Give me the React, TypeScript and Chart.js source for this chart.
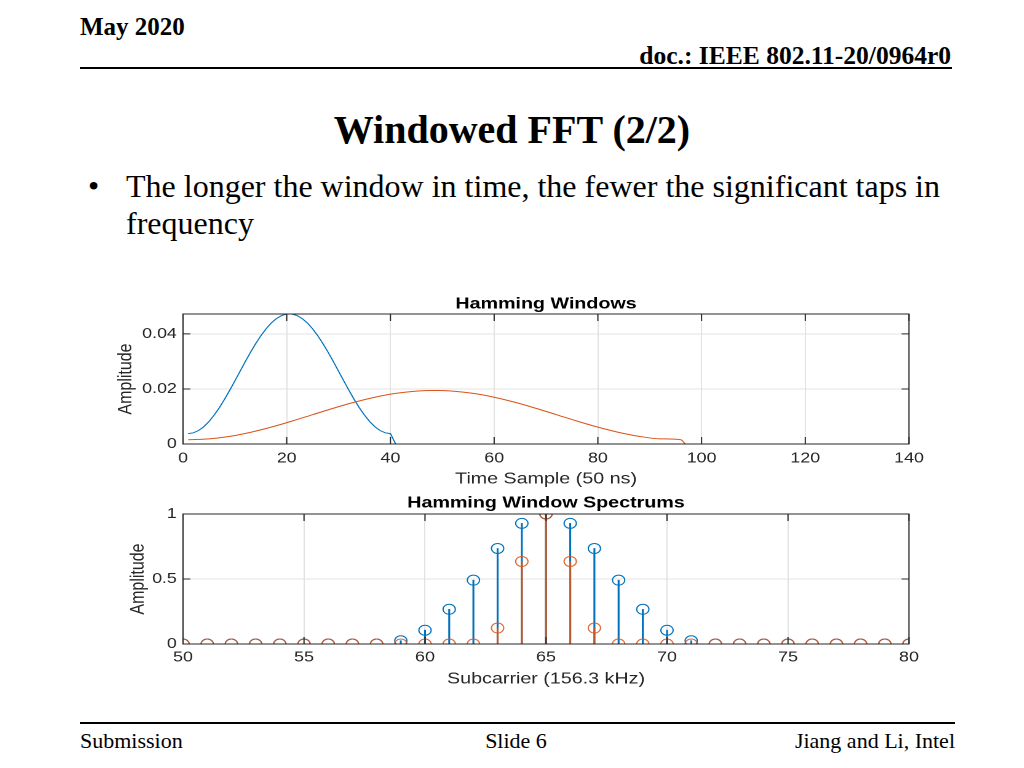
import React, { useEffect, useRef } from "react";
import { Chart, registerables } from "chart.js";

Chart.register(...registerables);

// ---------------- data ----------------
// Top plot: Hamming windows in time (x = time sample, 50 ns)
const shortWindowSamples = [
  1, 2, 3, 4, 5, 6, 7, 8, 9, 10, 11, 12, 13, 14, 15, 16, 17, 18, 19, 20,
  21, 22, 23, 24, 25, 26, 27, 28, 29, 30, 31, 32, 33, 34, 35, 36, 37, 38, 39, 40,
  41, 128,
];
const shortWindowAmplitude = [
  0.003784, 0.004066, 0.004904, 0.006276, 0.008148, 0.010472, 0.013182, 0.016214,
  0.01949, 0.022919, 0.026418, 0.029895, 0.033258, 0.036421, 0.039303, 0.041828,
  0.043936, 0.045558, 0.046668, 0.04723, 0.04723, 0.046668, 0.045558, 0.043936,
  0.041828, 0.039303, 0.036421, 0.033258, 0.029895, 0.026418, 0.022919, 0.01949,
  0.016214, 0.013182, 0.010472, 0.008148, 0.006276, 0.004904, 0.004066, 0.003784,
  0, 0,
];
const longWindowSamples = [
  1, 5, 9, 13, 17, 21, 25, 29, 33, 37, 41, 45, 48, 49, 52, 56, 60, 64, 68, 72,
  76, 80, 84, 88, 92, 96, 97, 128,
];
const longWindowAmplitude = [
  0.001557, 0.001869, 0.002781, 0.004232, 0.006119, 0.008312, 0.010658, 0.012994,
  0.015157, 0.016995, 0.018384, 0.019224, 0.019458, 0.019458, 0.019224, 0.018384,
  0.016995, 0.015157, 0.012994, 0.010658, 0.008312, 0.006119, 0.004232, 0.002781,
  0.001869, 0.001557, 0, 0,
];
const timeTicks = [0, 20, 40, 60, 80, 100, 120, 140];
const timeTickLabels = ["0", "20", "40", "60", "80", "100", "120", "140"];
const windowAmpTicks = [0, 0.02, 0.04];
const windowAmpTickLabels = ["0", "0.02", "0.04"];
const windowAmpMax = 0.04723;

// Bottom plot: spectra per subcarrier
const subcarriers = [
  50, 51, 52, 53, 54, 55, 56, 57, 58, 59, 60, 61, 62, 63, 64, 65, 66, 67, 68, 69,
  70, 71, 72, 73, 74, 75, 76, 77, 78, 79, 80,
];
const shortWindowSpectrum = [
  0, 0, 0, 0, 0, 0, 0, 0, 0, 0.025, 0.106, 0.267, 0.491, 0.735, 0.928, 1, 0.928,
  0.735, 0.491, 0.267, 0.106, 0.025, 0, 0, 0, 0, 0, 0, 0, 0, 0,
];
const longWindowSpectrum = [
  0, 0, 0, 0, 0, 0, 0, 0, 0, 0, 0, 0, 0, 0.123, 0.635, 1, 0.635, 0.123, 0, 0, 0,
  0, 0, 0, 0, 0, 0, 0, 0, 0, 0,
];
const subcarrierTicks = [50, 55, 60, 65, 70, 75, 80];
const subcarrierTickLabels = ["50", "55", "60", "65", "70", "75", "80"];
const spectrumTicks = [0, 0.5, 1];
const spectrumTickLabels = ["0", "0.5", "1"];

// ---------------- styles ----------------
const BLUE = "#0072BD";
const ORANGE = "#D95319";
const AXIS = "#262626";
const GRID = "#e2e2e2";
const FONT = "'Liberation Sans', Arial, Helvetica, sans-serif";
const SERIF = "'Liberation Serif', 'Times New Roman', serif";
const STRETCH = 1.23; // the figure is stretched horizontally in the slide
const INNER_W = 683;
const PLOT_LEFT = 67.48;
const PAD_RIGHT = 25.28;

const boxPlugin = {
  id: "matlabBox",
  afterDatasetsDraw(chart: any) {
    const { ctx, chartArea } = chart;
    const { left, right, top, bottom } = chartArea;
    const xs = chart.scales.x;
    const ys = chart.scales.y;
    ctx.save();
    ctx.strokeStyle = AXIS;
    ctx.lineWidth = 1;
    ctx.strokeRect(left, top, right - left, bottom - top);
    ctx.beginPath();
    xs.ticks.forEach((t: any) => {
      const px = xs.getPixelForValue(t.value);
      ctx.moveTo(px, bottom);
      ctx.lineTo(px, bottom - 7);
      ctx.moveTo(px, top);
      ctx.lineTo(px, top + 7);
    });
    ys.ticks.forEach((t: any) => {
      const py = ys.getPixelForValue(t.value);
      ctx.moveTo(left, py);
      ctx.lineTo(left + 6, py);
      ctx.moveTo(right, py);
      ctx.lineTo(right - 6, py);
    });
    ctx.stroke();
    ctx.restore();
  },
};

const titlePlugin = (text: string, baseline: number) => ({
  id: "axesTitle",
  afterDraw(chart: any) {
    const { ctx, chartArea } = chart;
    ctx.save();
    ctx.font = `bold 16px ${FONT}`;
    ctx.fillStyle = "#000";
    ctx.textAlign = "center";
    ctx.textBaseline = "alphabetic";
    ctx.fillText(text, (chartArea.left + chartArea.right) / 2, baseline);
    ctx.restore();
  },
});

function axisX(min: number, max: number, ticks: number[], labels: string[], title: string, tickPad: number, titlePad: number, height: number) {
  return {
    type: "linear",
    min,
    max,
    offset: false,
    afterBuildTicks: (s: any) => {
      s.ticks = ticks.map((v) => ({ value: v }));
    },
    ticks: {
      color: AXIS,
      font: { size: 14.5, family: FONT },
      padding: tickPad,
      maxRotation: 0,
      autoSkip: false,
      callback: (_v: any, i: number) => labels[i],
    },
    grid: { color: GRID, lineWidth: 1, drawTicks: false, offset: false },
    border: { display: false },
    title: {
      display: true,
      text: title,
      color: AXIS,
      font: { size: 16, family: FONT },
      padding: { top: 0, bottom: titlePad },
    },
    afterFit: (s: any) => {
      s.height = height;
    },
  };
}

function axisY(max: number, ticks: number[], labels: string[], titlePad: number) {
  return {
    type: "linear",
    min: 0,
    max,
    afterBuildTicks: (s: any) => {
      s.ticks = ticks.map((v) => ({ value: v }));
    },
    ticks: {
      color: AXIS,
      font: { size: 14.5, family: FONT },
      padding: 5,
      autoSkip: false,
      callback: (_v: any, i: number) => labels[i],
    },
    grid: { color: GRID, lineWidth: 1, drawTicks: false },
    border: { display: false },
    title: {
      display: true,
      text: "Amplitude",
      color: AXIS,
      font: { size: 16, family: FONT },
      padding: { top: titlePad, bottom: 0 },
    },
    afterFit: (s: any) => {
      s.width = PLOT_LEFT;
    },
  };
}

function windowsConfig(): any {
  return {
    type: "line",
    data: {
      datasets: [
        {
          label: "Short window",
          data: shortWindowSamples.map((x, i) => ({ x, y: shortWindowAmplitude[i] })),
          borderColor: BLUE,
          borderWidth: 1,
          pointRadius: 0,
          tension: 0,
          order: 2,
        },
        {
          label: "Long window",
          data: longWindowSamples.map((x, i) => ({ x, y: longWindowAmplitude[i] })),
          borderColor: ORANGE,
          borderWidth: 1,
          pointRadius: 0,
          cubicInterpolationMode: "monotone",
          order: 1,
        },
      ],
    },
    options: {
      animation: false,
      responsive: false,
      devicePixelRatio: 2,
      layout: { padding: { left: 0, right: PAD_RIGHT, top: 26, bottom: 0 } },
      plugins: { legend: { display: false }, tooltip: { enabled: false }, title: { display: false } },
      scales: {
        x: axisX(0, 140, timeTicks, timeTickLabels, "Time Sample (50 ns)", 6, 4.4, 49),
        y: axisY(windowAmpMax, windowAmpTicks, windowAmpTickLabels, 11.5),
      },
    },
    plugins: [boxPlugin, titlePlugin("Hamming Windows", 20.3)],
  };
}

function spectrumConfig(): any {
  const pts = (vals: number[]) => subcarriers.map((x, i) => ({ x, y: vals[i] }));
  return {
    type: "scatter",
    data: {
      datasets: [
        {
          type: "bar",
          label: "Short window stems",
          data: pts(shortWindowSpectrum),
          backgroundColor: BLUE,
          borderWidth: 0,
          barThickness: 0.9,
          grouped: false,
          order: 4,
        },
        {
          type: "scatter",
          label: "Short window",
          data: pts(shortWindowSpectrum),
          borderColor: BLUE,
          backgroundColor: "rgba(0,0,0,0)",
          pointBackgroundColor: "rgba(0,0,0,0)",
          pointBorderColor: BLUE,
          pointRadius: 5,
          pointHoverRadius: 5,
          pointBorderWidth: 1,
          showLine: false,
          order: 3,
        },
        {
          type: "bar",
          label: "Long window stems",
          data: pts(longWindowSpectrum),
          backgroundColor: "rgba(217,83,25,0.85)",
          borderWidth: 0,
          barThickness: 0.9,
          grouped: false,
          order: 2,
        },
        {
          type: "scatter",
          label: "Long window",
          data: pts(longWindowSpectrum),
          borderColor: ORANGE,
          backgroundColor: "rgba(0,0,0,0)",
          pointBackgroundColor: "rgba(0,0,0,0)",
          pointBorderColor: "rgba(217,83,25,0.88)",
          pointRadius: 5,
          pointHoverRadius: 5,
          pointBorderWidth: 1,
          showLine: false,
          order: 1,
        },
      ],
    },
    options: {
      animation: false,
      responsive: false,
      devicePixelRatio: 2,
      layout: { padding: { left: 0, right: PAD_RIGHT, top: 21, bottom: 0 } },
      plugins: { legend: { display: false }, tooltip: { enabled: false }, title: { display: false } },
      scales: {
        x: axisX(50, 80, subcarrierTicks, subcarrierTickLabels, "Subcarrier (156.3 kHz)", 5, 11.4, 56),
        y: axisY(1, spectrumTicks, spectrumTickLabels, 21.3),
      },
    },
    plugins: [boxPlugin, titlePlugin("Hamming Window Spectrums", 14.5)],
  };
}

function ChartBox({ left, top, height, makeConfig }: { left: number; top: number; height: number; makeConfig: () => any }) {
  const ref = useRef<HTMLCanvasElement | null>(null);
  useEffect(() => {
    const chart = new Chart(ref.current as HTMLCanvasElement, makeConfig());
    return () => chart.destroy();
  }, []);
  return (
    <div
      style={{
        position: "absolute",
        left,
        top,
        width: INNER_W,
        height,
        transform: `scaleX(${STRETCH})`,
        transformOrigin: "0 0",
      }}
    >
      <canvas ref={ref} width={INNER_W} height={height} style={{ display: "block", width: INNER_W, height }} />
    </div>
  );
}

const abs = (extra: React.CSSProperties): React.CSSProperties => ({
  position: "absolute",
  whiteSpace: "nowrap",
  ...extra,
});

export default function App() {
  return (
    <div
      style={{
        position: "absolute",
        left: 0,
        top: 0,
        width: 1024,
        height: 768,
        background: "#fff",
        overflow: "hidden",
        fontFamily: SERIF,
        color: "#000",
      }}
    >
      <div style={abs({ left: 80, top: 14, fontSize: 25, lineHeight: "25px", fontWeight: "bold" })}>May 2020</div>
      <div style={abs({ right: 73, top: 42.6, fontSize: 25.5, lineHeight: "25.5px", fontWeight: "bold" })}>
        doc.: IEEE 802.11-20/0964r0
      </div>
      <div style={abs({ left: 80, top: 67, width: 872, height: 2, background: "#000" })} />

      <div style={abs({ left: 0, width: 1024, top: 109.5, textAlign: "center", fontSize: 40, lineHeight: "40px", fontWeight: "bold" })}>
        Windowed FFT (2/2)
      </div>

      <div style={abs({ left: 88, top: 170, fontSize: 32, lineHeight: "32px" })}>•</div>
      <div style={abs({ left: 126, top: 170, fontSize: 32, lineHeight: "32px" })}>
        The longer the window in time, the fewer the significant taps in
      </div>
      <div style={abs({ left: 126, top: 207, fontSize: 32, lineHeight: "32px" })}>frequency</div>

      <ChartBox left={100} top={288} height={205} makeConfig={windowsConfig} />
      <ChartBox left={100} top={493} height={207} makeConfig={spectrumConfig} />

      <div style={abs({ left: 80, top: 722, width: 875, height: 2, background: "#000" })} />
      <div style={abs({ left: 80, top: 729.6, fontSize: 22, lineHeight: "22px" })}>Submission</div>
      <div style={abs({ left: 416, width: 200, top: 729.6, fontSize: 22, lineHeight: "22px", textAlign: "center" })}>Slide 6</div>
      <div style={abs({ right: 69, top: 729.6, fontSize: 22, lineHeight: "22px" })}>Jiang and Li, Intel</div>
    </div>
  );
}
